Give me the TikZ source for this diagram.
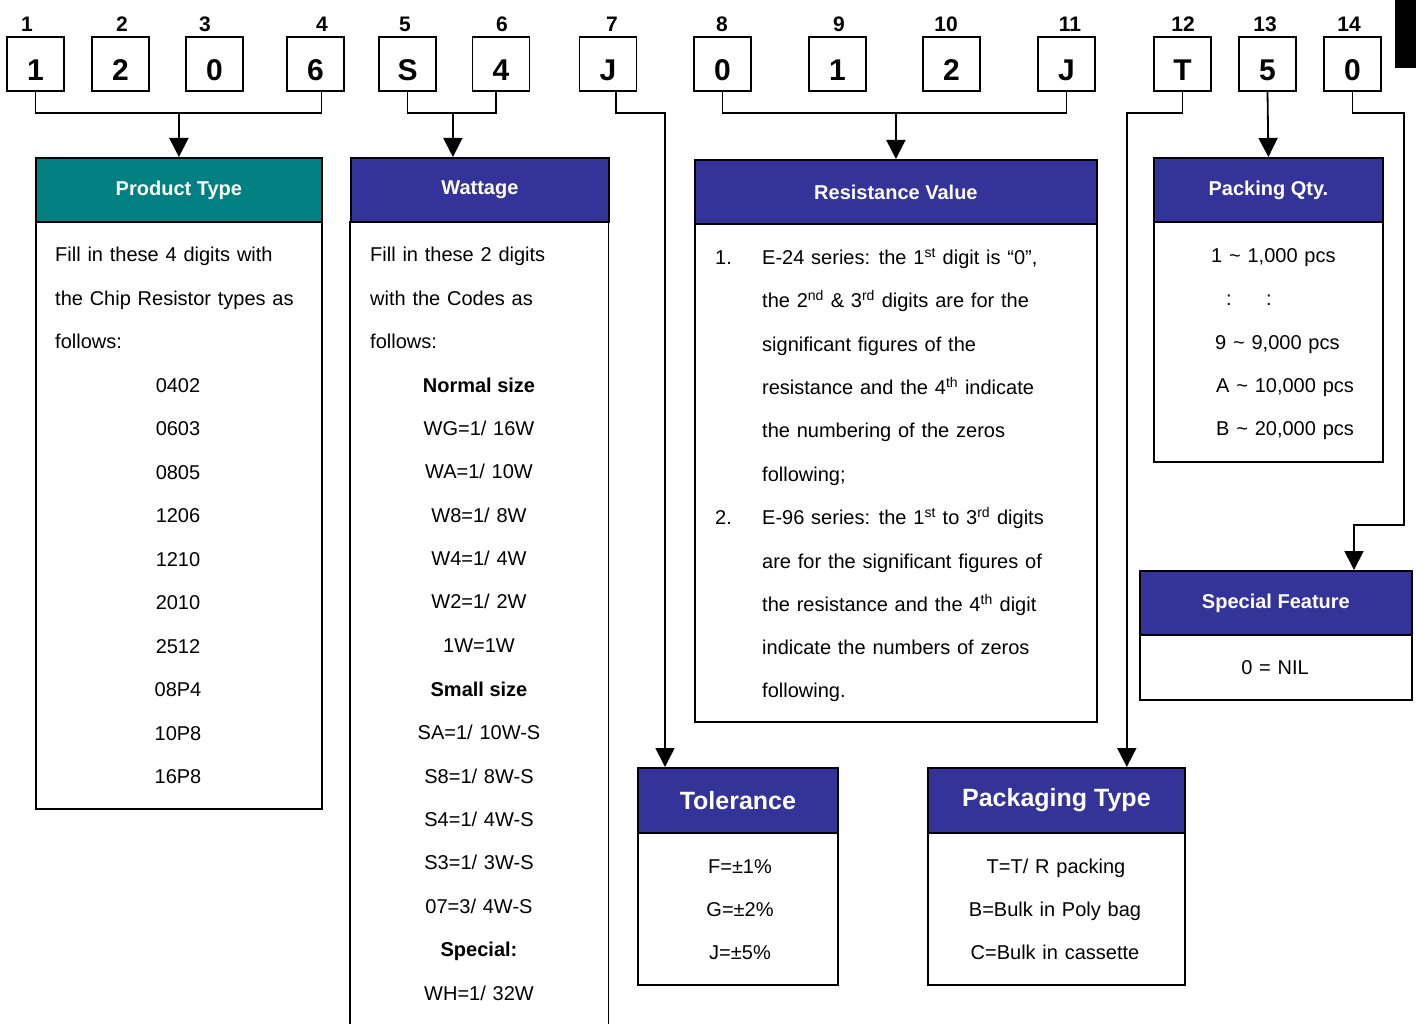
\documentclass[tikz,border=0pt]{standalone}
\usepackage{fontspec}
\setmainfont{Liberation Sans}
\usetikzlibrary{arrows.meta}
\definecolor{hdrblue}{RGB}{51,51,153}
\definecolor{hdrteal}{RGB}{0,128,128}
\newcommand\mybodyfont{\fontsize{20}{20}\selectfont\spaceskip 0.34em\relax}
\begin{document}
\begin{tikzpicture}[x=1pt,y=-1pt,
  digbox/.style={draw, line width=1.8pt, minimum width=57pt, minimum height=54pt, inner sep=0pt, text height=33pt, text depth=0pt, font=\fontsize{30}{30}\selectfont\bfseries},
  diglab/.style={inner sep=0pt, font=\fontsize{21}{21}\selectfont\bfseries},
  conn/.style={line width=1.8pt},
  arr/.style={line width=1.8pt, -{Triangle[length=19pt,width=19pt]}},
  hdr/.style={draw, line width=1.8pt, fill=hdrblue, text=white, anchor=north west, inner sep=0pt, minimum height=64pt, font=\fontsize{20}{20}\selectfont\bfseries},
  bighdr/.style={hdr, minimum height=65pt, font=\fontsize{25}{25}\selectfont\bfseries},
  bodybox/.style={draw, line width=1.8pt, anchor=north west, inner sep=0pt},
  txt/.style={inner sep=0pt, anchor=mid west, yshift=-5pt, font=\mybodyfont},
  ctxt/.style={inner sep=0pt, anchor=mid, yshift=-5pt, font=\mybodyfont},
  btxt/.style={ctxt, font=\fontsize{20}{20}\selectfont\bfseries},
]
\useasboundingbox (0,0) rectangle (1416,1024);
\fill[white] (0,0) rectangle (1416,1024);
\fill[black] (1395,0) rectangle (1416,68);

% digit boxes
\node[digbox] (d1)  at (35.5,64)  {1};
\node[digbox] (d2)  at (120.5,64) {2};
\node[digbox] (d3)  at (214.5,64) {0};
\node[digbox] (d4)  at (315.5,64) {6};
\node[digbox] (d5)  at (407.5,64) {S};
\node[digbox] (d6)  at (501,64)   {4};
\node[digbox] (d7)  at (608,64)   {J};
\node[digbox] (d8)  at (722.5,64) {0};
\node[digbox] (d9)  at (837.5,64) {1};
\node[digbox] (d10) at (951.5,64) {2};
\node[digbox] (d11) at (1066.5,64){J};
\node[digbox] (d12) at (1182.5,64){T};
\node[digbox] (d13) at (1267.5,64){5};
\node[digbox] (d14) at (1352.5,64){0};

\node[diglab] (l1)  at (27,24)   {1};
\node[diglab] (l2)  at (122,24)  {2};
\node[diglab] (l3)  at (205,24)  {3};
\node[diglab] (l4)  at (322,24)  {4};
\node[diglab] (l5)  at (405,24)  {5};
\node[diglab] (l6)  at (502,24)  {6};
\node[diglab] (l7)  at (612,24)  {7};
\node[diglab] (l8)  at (722,24)  {8};
\node[diglab] (l9)  at (839,24)  {9};
\node[diglab] (l10) at (946,24)  {10};
\node[diglab] (l11) at (1070,24) {11};
\node[diglab] (l12) at (1183,24) {12};
\node[diglab] (l13) at (1265,24) {13};
\node[diglab] (l14) at (1349,24) {14};

% category boxes
\node[hdr, fill=hdrteal, minimum width=286pt] (ptH) at (35,157) {Product Type};
\node[bodybox, minimum width=286pt, minimum height=587pt] (ptB) at (35,221) {};

\node[hdr, minimum width=258pt] (wH) at (350,157) {Wattage};
\node[inner sep=0pt, anchor=north west, minimum width=258pt, minimum height=803pt] (wB) at (350,221) {};
\draw[conn] (wB.north west) -- (wB.south west);
\draw[conn] (wB.north east) -- (wB.south east);

\node[hdr, minimum width=402pt] (rvH) at (694,159) {Resistance Value};
\node[bodybox, minimum width=402pt, minimum height=498pt] (rvB) at (694,223) {};

\node[hdr, minimum width=229pt] (pqH) at (1153,157) {Packing Qty.};
\node[bodybox, minimum width=229pt, minimum height=240pt] (pqB) at (1153,221) {};

\node[hdr, minimum width=272pt] (sfH) at (1139,570) {Special Feature};
\node[bodybox, minimum width=272pt, minimum height=65pt] (sfB) at (1139,634) {};

\node[bighdr, minimum width=200pt] (tolH) at (637,767) {Tolerance};
\node[bodybox, minimum width=200pt, minimum height=152pt] (tolB) at (637,832) {};

\node[bighdr, minimum width=257pt] (pkH) at (927,767) {Packaging Type};
\node[bodybox, minimum width=257pt, minimum height=152pt] (pkB) at (927,832) {};

% connectors
\coordinate (jy) at (0,113);
\draw[conn] (d1.south) |- ([xshift=6pt]d4.south |- jy) -- ([xshift=6pt]d4.south);
\draw[arr] (ptH.north |- jy) -- (ptH.north);

\draw[conn] (d5.south) |- ([xshift=-5pt]d6.south |- jy) -- ([xshift=-5pt]d6.south);
\draw[arr] ([xshift=-27pt]wH.north |- jy) -- ([xshift=-27pt]wH.north);

\coordinate (tA) at ([xshift=28pt]tolH.north west);
\draw[arr] ([xshift=8pt]d7.south) |- (tA |- jy) -- (tA);

\draw[conn] (d8.south) |- (d11.south |- jy) -- (d11.south);
\draw[arr] (rvH.north |- jy) -- (rvH.north);

\coordinate (pA) at ([xshift=-59pt]pkH.north east);
\draw[arr] (d12.south) |- (pA |- jy) -- (pA);

\draw[arr] (d13.south) -- (pqH.north);

\coordinate (sA) at ([xshift=215pt]sfH.north west);
\coordinate (bendA) at (1404,525);
\draw[arr] (d14.south) |- (bendA |- jy) -- (bendA) -| (sA);

% Product Type text
\node[txt] (pt1) at (55,254) {Fill in these 4 digits with};
\node[txt] (pt2) at (55,298) {the Chip Resistor types as};
\node[txt] (pt3) at (55,341) {follows:};
\node[ctxt] (pt4) at (178,385) {0402};
\node[ctxt] (pt5) at (178,428) {0603};
\node[ctxt] (pt6) at (178,472) {0805};
\node[ctxt] (pt7) at (178,515) {1206};
\node[ctxt] (pt8) at (178,559) {1210};
\node[ctxt] (pt9) at (178,602) {2010};
\node[ctxt] (pt10) at (178,646) {2512};
\node[ctxt] (pt11) at (178,689) {08P4};
\node[ctxt] (pt12) at (178,733) {10P8};
\node[ctxt] (pt13) at (178,776) {16P8};

% Wattage text
\node[txt] (w1) at (370,254) {Fill in these 2 digits};
\node[txt] (w2) at (370,298) {with the Codes as};
\node[txt] (w3) at (370,341) {follows:};
\node[btxt] (w4) at (479,385) {Normal size};
\node[ctxt] (w5) at (479,428) {WG=1/ 16W};
\node[ctxt] (w6) at (479,471) {WA=1/ 10W};
\node[ctxt] (w7) at (479,515) {W8=1/ 8W};
\node[ctxt] (w8) at (479,558) {W4=1/ 4W};
\node[ctxt] (w9) at (479,601) {W2=1/ 2W};
\node[ctxt] (w10) at (479,645) {1W=1W};
\node[btxt] (w11) at (479,689) {Small size};
\node[ctxt] (w12) at (479,732) {SA=1/ 10W-S};
\node[ctxt] (w13) at (479,776) {S8=1/ 8W-S};
\node[ctxt] (w14) at (479,819) {S4=1/ 4W-S};
\node[ctxt] (w15) at (479,862) {S3=1/ 3W-S};
\node[ctxt] (w16) at (479,906) {07=3/ 4W-S};
\node[btxt] (w17) at (479,949) {Special:};
\node[ctxt] (w18) at (479,993) {WH=1/ 32W};

% Resistance text
\node[txt] (rn1) at (715,257) {1.};
\node[txt] (r1) at (762,257) {E-24 series: the 1\textsuperscript{st} digit is “0”,};
\node[txt] (r2) at (762,300) {the 2\textsuperscript{nd} \& 3\textsuperscript{rd} digits are for the};
\node[txt] (r3) at (762,344) {significant figures of the};
\node[txt] (r4) at (762,387) {resistance and the 4\textsuperscript{th} indicate};
\node[txt] (r5) at (762,430) {the numbering of the zeros};
\node[txt] (r6) at (762,474) {following;};
\node[txt] (rn2) at (715,517) {2.};
\node[txt] (r7) at (762,517) {E-96 series: the 1\textsuperscript{st} to 3\textsuperscript{rd} digits};
\node[txt] (r8) at (762,561) {are for the significant figures of};
\node[txt] (r9) at (762,604) {the resistance and the 4\textsuperscript{th} digit};
\node[txt] (r10) at (762,647) {indicate the numbers of zeros};
\node[txt] (r11) at (762,690) {following.};

% Packing Qty text
\node[txt] (q1) at (1211,255) {1 \textasciitilde\ 1,000 pcs};
\node[txt] (q2a) at (1226,298) {:};
\node[txt] (q2b) at (1266,298) {:};
\node[txt] (q3) at (1215,342) {9 \textasciitilde\ 9,000 pcs};
\node[txt] (q4) at (1216,385) {A \textasciitilde\ 10,000 pcs};
\node[txt] (q5) at (1216,428) {B \textasciitilde\ 20,000 pcs};

% Special feature text
\node[ctxt] (s1) at (1275,667) {0 = NIL};

% Tolerance text
\node[ctxt] (t1) at (740,866) {F=±1\%};
\node[ctxt] (t2) at (740,909) {G=±2\%};
\node[ctxt] (t3) at (740,952) {J=±5\%};

% Packaging type text
\node[ctxt] (k1) at (1056,866) {T=T/ R packing};
\node[ctxt] (k2) at (1055,909) {B=Bulk in Poly bag};
\node[ctxt] (k3) at (1055,952) {C=Bulk in cassette};
\end{tikzpicture}
\end{document}
